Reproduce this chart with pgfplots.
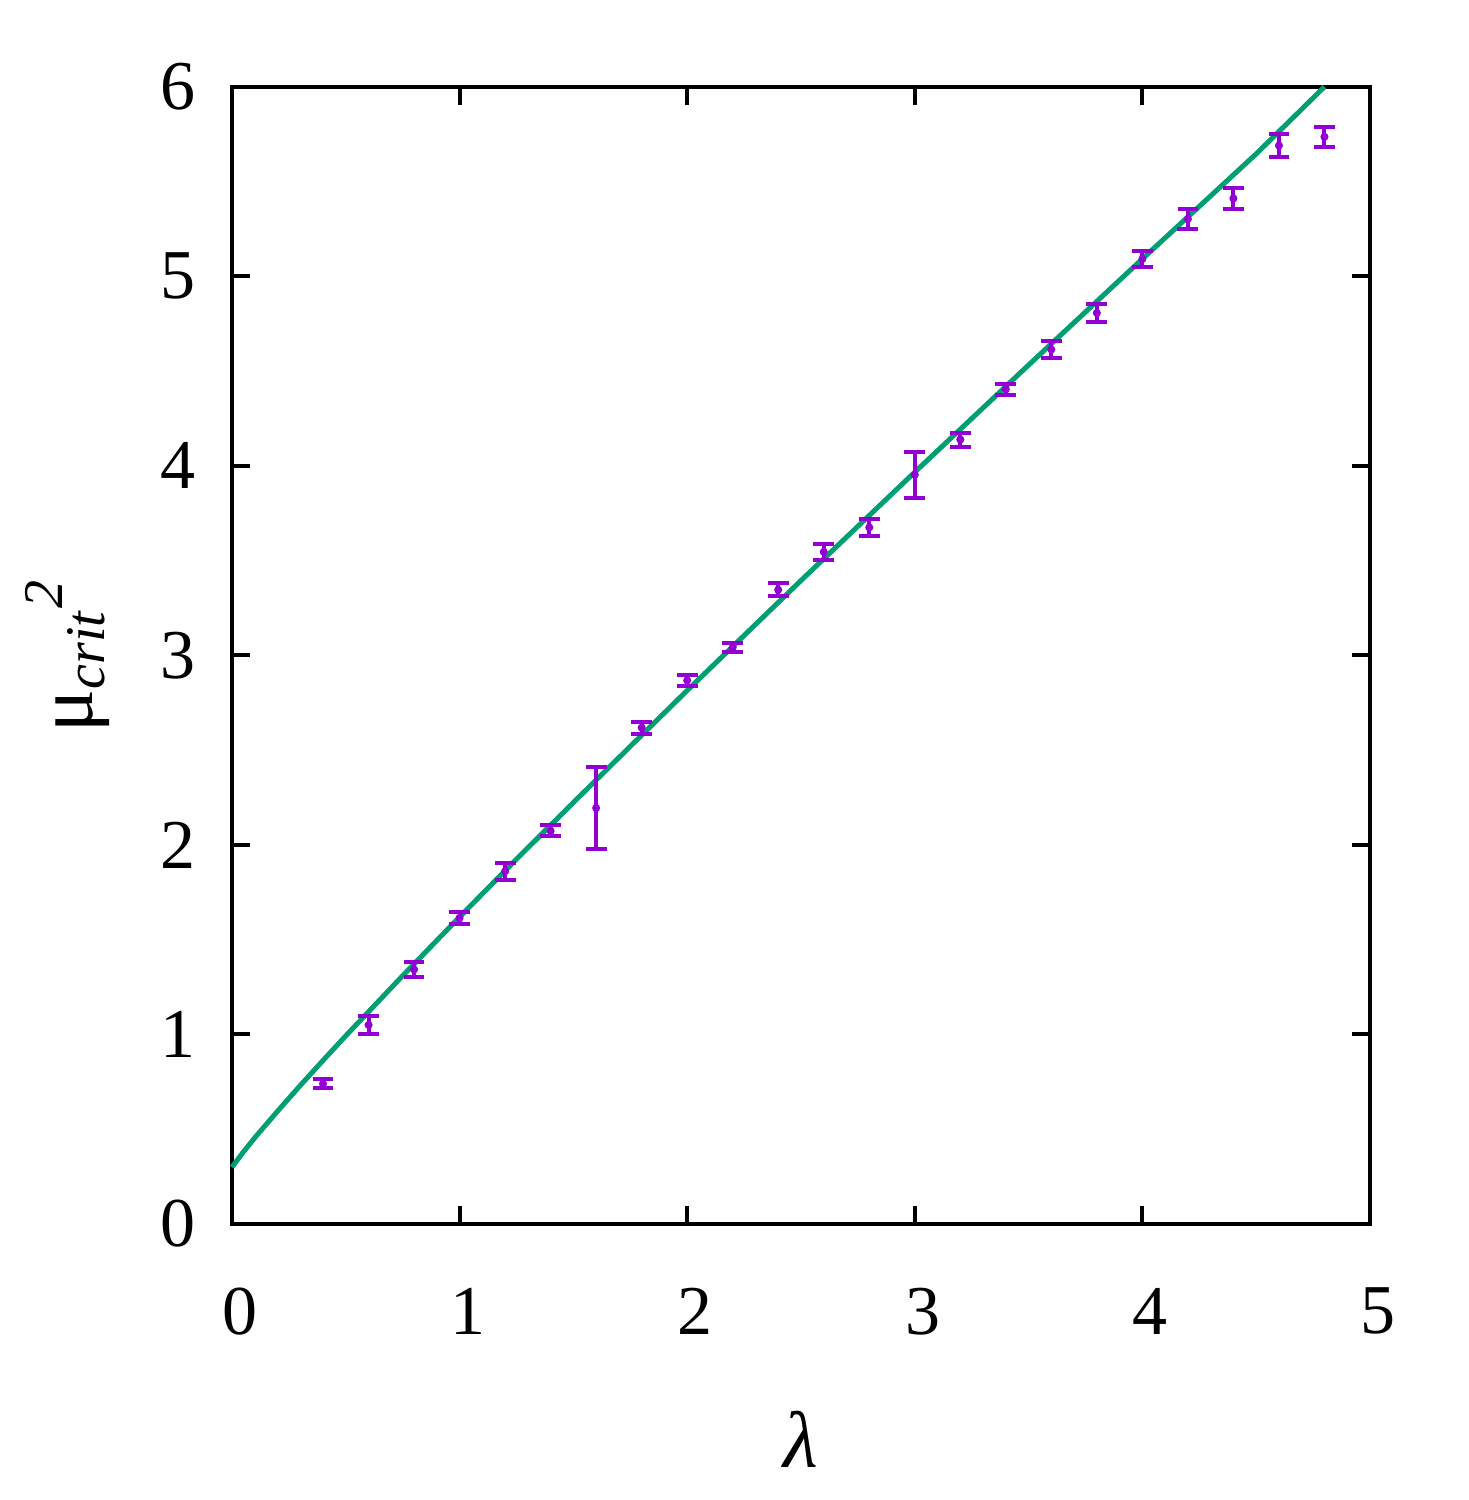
\documentclass[border=0pt]{standalone}
\usepackage{fontspec}
\setmainfont{Liberation Serif}
\usepackage{pgfplots}
\pgfplotsset{compat=1.18}
\definecolor{errviolet}{HTML}{9400D3}
\definecolor{fitgreen}{HTML}{009E73}

\begin{document}
\fontsize{17.5}{21}\selectfont
\begin{tikzpicture}
\path[use as bounding box] (-58pt,-69pt) rectangle (309pt,306pt);
\begin{axis}[
  at={(0,0)}, anchor=south west,
  scale only axis,
  width=284.5pt, height=284.3pt,
  xmin=0, xmax=5, ymin=0, ymax=6,
  xtick={0,1,2,3,4,5}, ytick={0,1,2,3,4,5,6},
  tick align=inside, major tick length=4.5pt,
  tick style={line width=1pt, black},
  axis line style={line width=1pt},
  /pgf/number format/assume math mode=true,
  x tick label style={yshift=-10pt, xshift=2pt},
  y tick label style={xshift=-3pt},
  xlabel={\textit{λ}},
  xlabel style={yshift=-7pt, font=\fontsize{20}{24}\selectfont},
  ylabel={μ\textsubscript{\textit{crit}}\textsuperscript{\textit{2}}},
  ylabel style={yshift=1pt, font=\fontsize{20}{24}\selectfont},
  clip=false,
]
% fitted curve
\addplot[fitgreen, line width=1.25pt] coordinates {
(0,0.30) (0.05,0.38) (0.1,0.455) (0.2,0.595) (0.3,0.731) (0.4,0.863) (0.5,0.993)
(0.75,1.310) (1.0,1.62) (1.25,1.925) (1.5,2.224) (1.75,2.52) (2.0,2.815)
(2.5,3.395) (3.0,3.967) (3.5,4.532) (4.0,5.092) (4.5,5.646) (4.8,6.0)
};
% lattice data
\addplot[errviolet, only marks, mark=*, mark size=0.8pt,
  error bars/.cd, y dir=both, y explicit,
  error bar style={line width=1pt},
  error mark options={rotate=90, line width=1pt, mark size=2.6pt}]
  table[x=x, y=y, y error=e] {
x   y     e
0.4 0.740 0.025
0.6 1.050 0.050
0.8 1.343 0.038
1.0 1.615 0.032
1.2 1.861 0.046
1.4 2.074 0.029
1.6 2.195 0.214
1.8 2.619 0.032
2.0 2.868 0.029
2.2 3.042 0.025
2.4 3.346 0.035
2.6 3.546 0.042
2.8 3.675 0.044
3.0 3.953 0.121
3.2 4.139 0.037
3.4 4.404 0.029
3.6 4.614 0.044
3.8 4.807 0.046
4.0 5.091 0.042
4.2 5.302 0.053
4.4 5.411 0.055
4.6 5.690 0.060
4.8 5.736 0.052
};
\end{axis}
\end{tikzpicture}
\end{document}
